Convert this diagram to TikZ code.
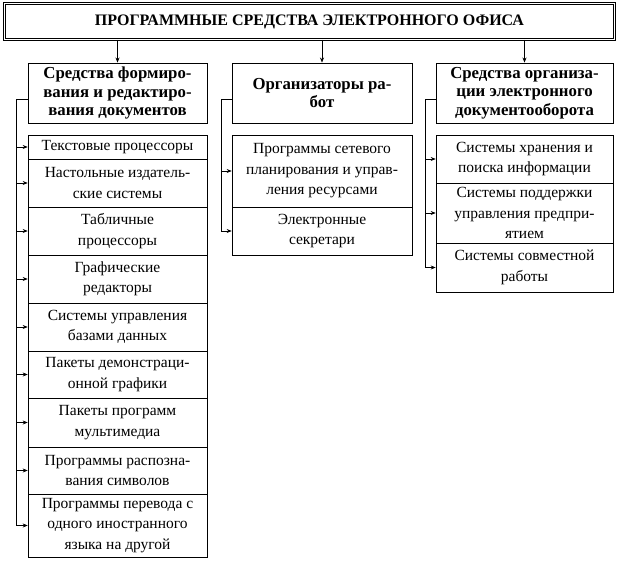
\documentclass[tikz,border=0pt]{standalone}
\usepackage{fontspec}
\setmainfont{Liberation Serif}
\usetikzlibrary{arrows.meta}

\newlength{\du}
\setlength{\du}{1pt}

\tikzset{
  titlebox/.style={draw, double, double distance=1.5\du, line width=0.9\du, inner sep=0pt,
    minimum width=610\du, minimum height=36\du, font=\bfseries\fontsize{16}{18}\selectfont},
  headbox/.style={draw, line width=0.9\du, inner sep=0pt, align=center,
    minimum height=60\du, font=\bfseries\fontsize{16.8}{18.5}\selectfont},
  itembox/.style={draw, line width=0.6\du, inner sep=0pt, align=center,
    font=\fontsize{15.5}{20.5}\selectfont},
  link/.style={line width=0.6\du, -{Stealth[length=5pt,width=4pt]}}
}

\begin{document}
\begin{tikzpicture}[yscale=-1]
\useasboundingbox (0,0) rectangle (620\du,569\du);

% top
\node[titlebox] (top) at (309.5\du,21.5\du) {ПРОГРАММНЫЕ СРЕДСТВА ЭЛЕКТРОННОГО ОФИСА};

% headers
\node[headbox, minimum width=179\du] (hL) at (117.5\du,93\du) {Средства формиро-\\вания и редактиро-\\вания документов};
\node[headbox, minimum width=180\du] (hM) at (322\du,93\du) {Организаторы ра-\\бот};
\node[headbox, minimum width=177\du] (hR) at (524.5\du,93\du) {Средства организа-\\ции электронного\\документооборота};

% left column
\node[itembox, minimum width=179\du, minimum height=24\du] (L1) at (117.5\du,147\du) {Текстовые процессоры};
\node[itembox, minimum width=179\du, minimum height=48\du] (L2) at (117.5\du,183\du) {Настольные издатель-\\ские системы};
\node[itembox, minimum width=179\du, minimum height=48\du] (L3) at (117.5\du,231\du) {Табличные\\процессоры};
\node[itembox, minimum width=179\du, minimum height=48\du] (L4) at (117.5\du,279\du) {Графические\\редакторы};
\node[itembox, minimum width=179\du, minimum height=48\du] (L5) at (117.5\du,327\du) {Системы управления\\базами данных};
\node[itembox, minimum width=179\du, minimum height=47\du] (L6) at (117.5\du,374.5\du) {Пакеты демонстраци-\\онной графики};
\node[itembox, minimum width=179\du, minimum height=49\du] (L7) at (117.5\du,422.5\du) {Пакеты программ\\мультимедиа};
\node[itembox, minimum width=179\du, minimum height=47\du] (L8) at (117.5\du,470.5\du) {Программы распозна-\\вания символов};
\node[itembox, minimum width=179\du, minimum height=63\du] (L9) at (117.5\du,525.5\du) {Программы перевода с\\одного иностранного\\языка на другой};

% middle column
\node[itembox, minimum width=180\du, minimum height=72\du] (M1) at (322\du,171\du) {Программы сетевого\\планирования и управ-\\ления ресурсами};
\node[itembox, minimum width=180\du, minimum height=48\du] (M2) at (322\du,231\du) {Электронные\\секретари};

% right column
\node[itembox, minimum width=177\du, minimum height=48\du] (R1) at (524.5\du,159\du) {Системы хранения и\\поиска информации};
\node[itembox, minimum width=177\du, minimum height=60\du] (R2) at (524.5\du,213\du) {Системы поддержки\\управления предпри-\\ятием};
\node[itembox, minimum width=177\du, minimum height=49\du] (R3) at (524.5\du,267.5\du) {Системы совместной\\работы};

% connectors
\foreach \h in {hL,hM,hR}
  \draw[link] (\h.north |- top.south) -- (\h.north);

\coordinate (jL) at (16\du,99\du);
\coordinate (jM) at (221\du,99\du);
\coordinate (jR) at (425\du,99\du);

\foreach \i in {1,...,9}
  \draw[link] (hL.west |- jL) -- (jL) |- (L\i.west);
\foreach \i in {1,2}
  \draw[link] (hM.west |- jM) -- (jM) |- (M\i.west);
\foreach \i in {1,2,3}
  \draw[link] (hR.west |- jR) -- (jR) |- (R\i.west);
\end{tikzpicture}
\end{document}
